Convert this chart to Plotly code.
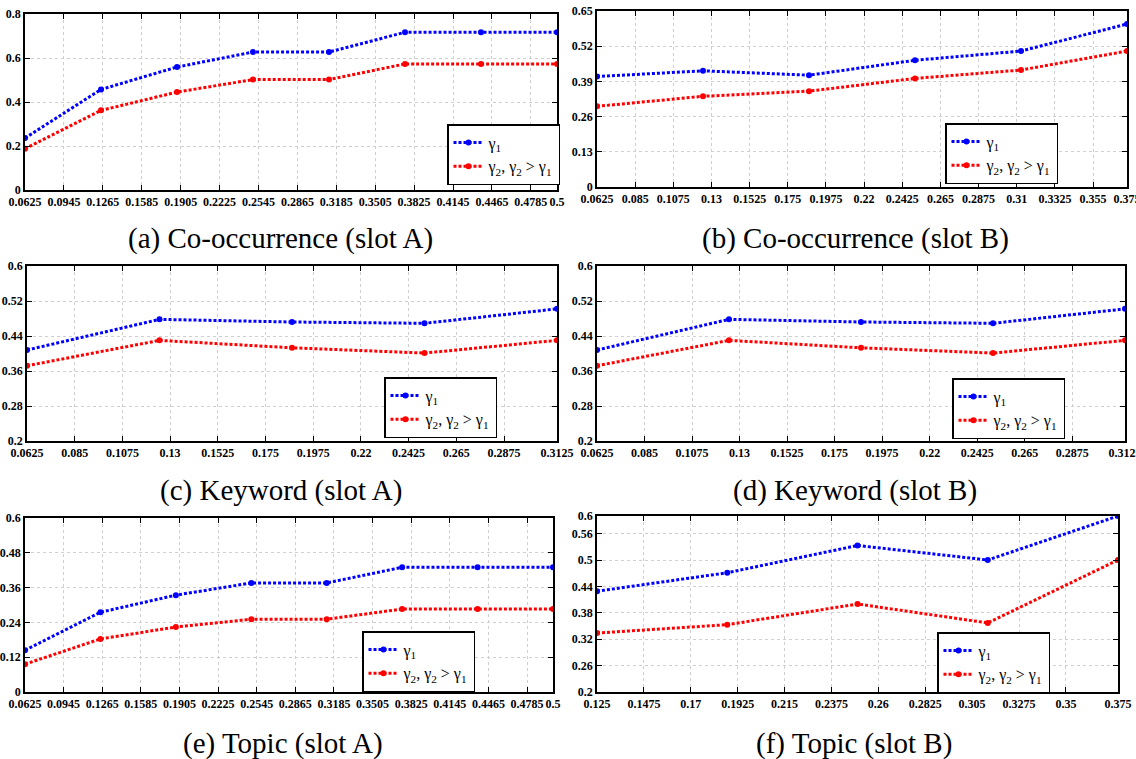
import plotly.graph_objects as go

W, H = 1136, 759

# ---------------- data ----------------
a_x = [0.0625, 0.125, 0.1875, 0.25, 0.3125, 0.375, 0.4375, 0.5]
a_g1 = [0.236, 0.457, 0.559, 0.627, 0.627, 0.717, 0.717, 0.717]
a_g2 = [0.188, 0.362, 0.445, 0.502, 0.502, 0.573, 0.573, 0.573]

b_x = [0.0625, 0.125, 0.1875, 0.25, 0.3125, 0.375]
b_g1 = [0.408, 0.429, 0.413, 0.468, 0.502, 0.602]
b_g2 = [0.298, 0.335, 0.354, 0.401, 0.432, 0.502]

c_x = [0.0625, 0.125, 0.1875, 0.25, 0.3125]
c_g1 = [0.408, 0.478, 0.472, 0.469, 0.502]
c_g2 = [0.372, 0.430, 0.413, 0.401, 0.430]

d_x = [0.0625, 0.125, 0.1875, 0.25, 0.3125]
d_g1 = [0.408, 0.478, 0.472, 0.469, 0.502]
d_g2 = [0.372, 0.430, 0.413, 0.401, 0.430]

e_x = [0.0625, 0.125, 0.1875, 0.25, 0.3125, 0.375, 0.4375, 0.5]
e_g1 = [0.144, 0.275, 0.334, 0.376, 0.376, 0.430, 0.430, 0.430]
e_g2 = [0.096, 0.183, 0.224, 0.251, 0.251, 0.286, 0.286, 0.286]

f_x = [0.125, 0.1875, 0.25, 0.3125, 0.375]
f_g1 = [0.429, 0.471, 0.533, 0.500, 0.600]
f_g2 = [0.334, 0.353, 0.400, 0.357, 0.500]

xt_ae = [0.0625, 0.0945, 0.1265, 0.1585, 0.1905, 0.2225, 0.2545, 0.2865,
         0.3185, 0.3505, 0.3825, 0.4145, 0.4465, 0.4785, 0.5]
xt_b = [0.0625, 0.085, 0.1075, 0.13, 0.1525, 0.175, 0.1975, 0.22, 0.2425,
        0.265, 0.2875, 0.31, 0.3325, 0.355, 0.375]
xt_cd = [0.0625, 0.085, 0.1075, 0.13, 0.1525, 0.175, 0.1975, 0.22, 0.2425,
         0.265, 0.2875, 0.3125]
xt_f = [0.125, 0.1475, 0.17, 0.1925, 0.215, 0.2375, 0.26, 0.2825, 0.305,
        0.3275, 0.35, 0.375]

yt_a = [0, 0.2, 0.4, 0.6, 0.8]
yt_b = [0, 0.13, 0.26, 0.39, 0.52, 0.65]
yt_cd = [0.2, 0.28, 0.36, 0.44, 0.52, 0.6]
yt_e = [0, 0.12, 0.24, 0.36, 0.48, 0.6]
yt_f = [0.2, 0.26, 0.32, 0.38, 0.44, 0.5, 0.56, 0.6]

captions = ["(a) Co-occurrence (slot A)", "(b) Co-occurrence (slot B)",
            "(c) Keyword (slot A)", "(d) Keyword (slot B)",
            "(e) Topic (slot A)", "(f) Topic (slot B)"]
name1 = "γ<sub>1</sub>"
name2 = "γ<sub>2</sub>, γ<sub>2</sub> > γ<sub>1</sub>"

# ---------------- layout helpers ----------------
def px_x(p):
    return p / W

def px_y(p):
    return 1 - p / H

# panel boxes in pixels: (left, right, top, bottom)
boxes = [(25, 557, 14, 190), (597, 1127, 11, 187),
         (27, 557, 266, 441), (597, 1125, 266, 441),
         (25, 553, 518, 692), (597, 1118, 516, 692)]
legend_pos = [(447, 124), (945, 123), (384, 377), (952, 378), (362, 631), (937, 632)]
caption_pos = [(280, 238), (855, 238), (281, 490), (855, 490), (283, 743), (854, 743)]

panels = [
    (a_x, a_g1, a_g2, xt_ae, yt_a, [0.0625, 0.5], [0, 0.8]),
    (b_x, b_g1, b_g2, xt_b, yt_b, [0.0625, 0.375], [0, 0.65]),
    (c_x, c_g1, c_g2, xt_cd, yt_cd, [0.0625, 0.3125], [0.2, 0.6]),
    (d_x, d_g1, d_g2, xt_cd, yt_cd, [0.0625, 0.3125], [0.2, 0.6]),
    (e_x, e_g1, e_g2, xt_ae, yt_e, [0.0625, 0.5], [0, 0.6]),
    (f_x, f_g1, f_g2, xt_f, yt_f, [0.125, 0.375], [0.2, 0.6]),
]

SERIF = "Liberation Serif, Times New Roman, serif"
tickfont = dict(family=SERIF, size=12, color="black", weight="bold")

fig = go.Figure()
layout = dict(width=W, height=H, margin=dict(l=0, r=0, t=0, b=0, autoexpand=False),
              paper_bgcolor="white", plot_bgcolor="white", showlegend=True,
              annotations=[])

for i, (xs, g1, g2, xt, yt, xr, yr) in enumerate(panels):
    n = "" if i == 0 else str(i + 1)
    lg = "legend" + n
    xa, ya = "x" + n, "y" + n
    fig.add_trace(go.Scatter(x=xs, y=g1, mode="lines+markers", name=name1,
                             line=dict(color="#0000ff", width=3, dash="3px,2px"),
                             marker=dict(color="#0000ff", size=6),
                             xaxis=xa, yaxis=ya, legend=lg))
    fig.add_trace(go.Scatter(x=xs, y=g2, mode="lines+markers", name=name2,
                             line=dict(color="#ff0000", width=3, dash="3px,2px"),
                             marker=dict(color="#ff0000", size=6),
                             xaxis=xa, yaxis=ya, legend=lg))
    l, r, t, b = boxes[i]
    common = dict(showline=True, linecolor="black", linewidth=1.5, mirror="allticks",
                  ticks="inside", ticklen=5, tickcolor="black", tickwidth=1,
                  showgrid=True, gridcolor="#cfcfcf", griddash="dot", gridwidth=1,
                  zeroline=False, tickfont=tickfont, tickangle=0, automargin=False,
                  ticklabeloverflow="allow")
    layout["xaxis" + n] = dict(domain=[px_x(l), px_x(r)], anchor=ya, range=xr,
                               tickmode="array", tickvals=xt,
                               ticktext=[format(v, "g") for v in xt],
                               ticklabelstandoff=0, **common)
    layout["yaxis" + n] = dict(domain=[px_y(b), px_y(t)], anchor=xa, range=yr,
                               tickmode="array", tickvals=yt,
                               ticktext=[format(v, "g") for v in yt],
                               ticklabelstandoff=0, **common)
    lx, ly = legend_pos[i]
    layout[lg] = dict(x=px_x(lx), y=px_y(ly), xanchor="left", yanchor="top",
                      xref="paper", yref="paper",
                      bgcolor="white", bordercolor="black", borderwidth=1.5,
                      font=dict(family=SERIF, size=16, color="black"),
                      itemwidth=30, tracegroupgap=0)
    cx, cy = caption_pos[i]
    layout["annotations"].append(dict(x=px_x(cx), y=px_y(cy), xref="paper", yref="paper",
                                      text=captions[i], showarrow=False,
                                      xanchor="center", yanchor="middle",
                                      font=dict(family=SERIF, size=29, color="black")))

fig.update_layout(**layout)
fig.write_html("out.html", config={"displayModeBar": False},
               post_script="document.body.style.margin='0';document.body.style.overflow='hidden';")
